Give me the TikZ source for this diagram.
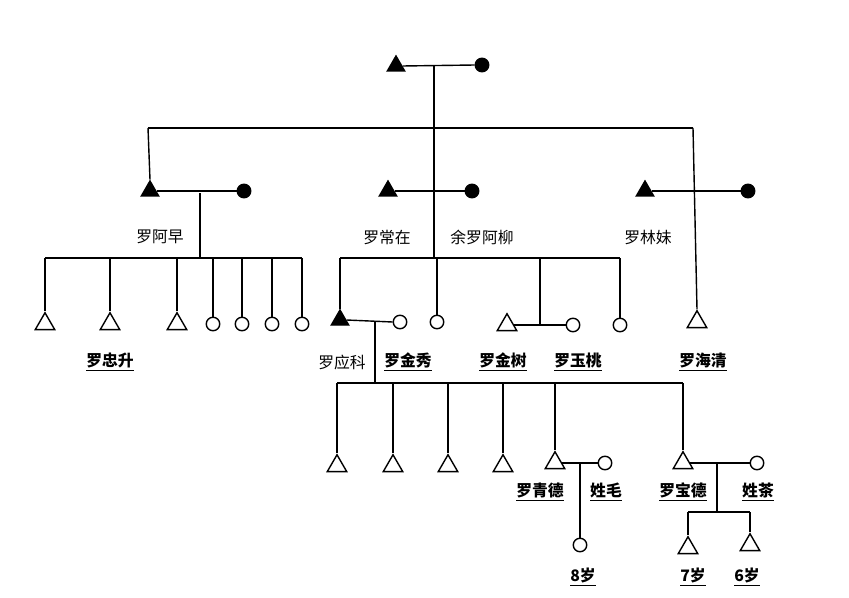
\documentclass[tikz,border=0pt]{standalone}
\usepackage{fontspec}
\newfontfamily\cjk{Noto Sans CJK SC}
\usetikzlibrary{shapes.geometric}
\tikzset{
  tri/.style={draw,thick,regular polygon,regular polygon sides=3,inner sep=0pt,minimum size=0.45cm},
  ftri/.style={tri,fill=black,minimum size=0.4cm},
  circ/.style={draw,thick,circle,inner sep=0pt,minimum size=0.27cm},
  fcirc/.style={circ,fill=black},
  lbl/.style={font=\cjk\small},
  ulbl/.style={font=\cjk\small\bfseries},
  every path/.style={thick}
}
\newcommand{\ul}[1]{\underline{#1}}
\begin{document}
\begin{tikzpicture}[x=0.02cm,y=-0.02cm]
\useasboundingbox (0,0) rectangle (849,598);
% top couple
\node [ftri](T) at (396,66){};
\node [fcirc](TW) at (482,65){};
\draw (T.east) -- (TW.west);
\coordinate (t1) at (434,66);
\coordinate (t2) at (434,128);
\coordinate (tl) at (148,128);
\coordinate (tr) at (693,128);
\draw (t1) -- (t2);
\draw (tl) -- (tr);
% left couple
\node [ftri](A) at (150,191){};
\node [fcirc](AW) at (244,191){};
\draw (tl) -- (A.north);
\draw (A.east) -- (AW.west);
\node [lbl](Aname) at (160,237){罗阿早};
\coordinate (a1) at (200,193);
\coordinate (a2) at (200,258);
\draw (a1) -- (a2);
\coordinate (al) at (45,258);
\coordinate (ar) at (302,258);
\draw (al) -- (ar);
\foreach \x/\n in {45/a,110/b,177/c}{
  \node [tri](A\n) at (\x,324){};
  \draw (\x,258) -- (A\n.north);
}
\foreach \x/\n in {213/d,242/e,272/f,302/g}{
  \node [circ](A\n) at (\x,324){};
  \draw (\x,258) -- (A\n.north);
}
\node [ulbl](Zs) at (110,362){\ul{罗忠升}};
% middle couple
\node [ftri](B) at (388,191){};
\node [fcirc](BW) at (472,191){};
\draw (B.east) -- (BW.west);
\coordinate (b2) at (434,258);
\draw (t2) -- (b2);
\node [lbl](Bname) at (387,237){罗常在};
\node [lbl](BWname) at (482,237){余罗阿柳};
\coordinate (bl) at (340,258);
\coordinate (br) at (620,258);
\draw (bl) -- (br);
\node [ftri](C) at (340,320){};
\node [circ](CW) at (400,322){};
\draw (bl) -- (C.north);
\draw (C.east) -- (CW.west);
\node [circ](Bb) at (437,322){};
\draw (437,258) -- (Bb.north);
\node [tri](D) at (507,325){};
\node [circ](DW) at (573,325){};
\draw (D.east) -- (DW.west);
\draw (540,258) -- (540,325);
\node [circ](Bd) at (620,325){};
\draw (br) -- (Bd.north);
\node [lbl](Cname) at (342,362){罗应科};
\node [ulbl](CWname) at (408,362){\ul{罗金秀}};
\node [ulbl](Dname) at (503,362){\ul{罗金树}};
\node [ulbl](DWname) at (578,362){\ul{罗玉桃}};
% right couple
\node [ftri](E) at (645,191){};
\node [fcirc](EW) at (748,191){};
\draw (E.east) -- (EW.west);
\node [lbl](Ename) at (648,237){罗林妹};
\node [tri](Hq) at (697,322){};
\draw (tr) -- (Hq.north);
\node [ulbl](Hqname) at (703,362){\ul{罗海清}};
% grandchildren
\coordinate (c1) at (375,322);
\coordinate (c2) at (375,383);
\draw (c1) -- (c2);
\coordinate (cl) at (337,383);
\coordinate (cr) at (683,383);
\draw (cl) -- (cr);
\foreach \x/\n in {337/a,393/b,448/c,503/d}{
  \node [tri](G\n) at (\x,466){};
  \draw (\x,383) -- (G\n.north);
}
\node [tri](Q) at (555,463){};
\node [circ](QW) at (605,463){};
\draw (555,383) -- (Q.north);
\draw (Q.east) -- (QW.west);
\node [tri](Bd2) at (683,463){};
\node [circ](BdW) at (757,463){};
\draw (cr) -- (Bd2.north);
\draw (Bd2.east) -- (BdW.west);
\node [ulbl](Qname) at (540,492){\ul{罗青德}};
\node [ulbl](QWname) at (606,492){\ul{姓毛}};
\node [ulbl](Bdname) at (683,492){\ul{罗宝德}};
\node [ulbl](BdWname) at (758,492){\ul{姓茶}};
% great-grandchildren
\node [circ](K1) at (580,545){};
\draw (580,463) -- (K1.north);
\node [ulbl](K1name) at (583,577){\ul{8岁}};
\coordinate (k1) at (717,463);
\coordinate (k2) at (717,512);
\draw (k1) -- (k2);
\draw (688,512) -- (750,512);
\node [tri](K2) at (688,548){};
\node [tri](K3) at (750,545){};
\draw (688,512) -- (K2.north);
\draw (750,512) -- (K3.north);
\node [ulbl](K2name) at (693,577){\ul{7岁}};
\node [ulbl](K3name) at (747,577){\ul{6岁}};
\end{tikzpicture}
\end{document}
